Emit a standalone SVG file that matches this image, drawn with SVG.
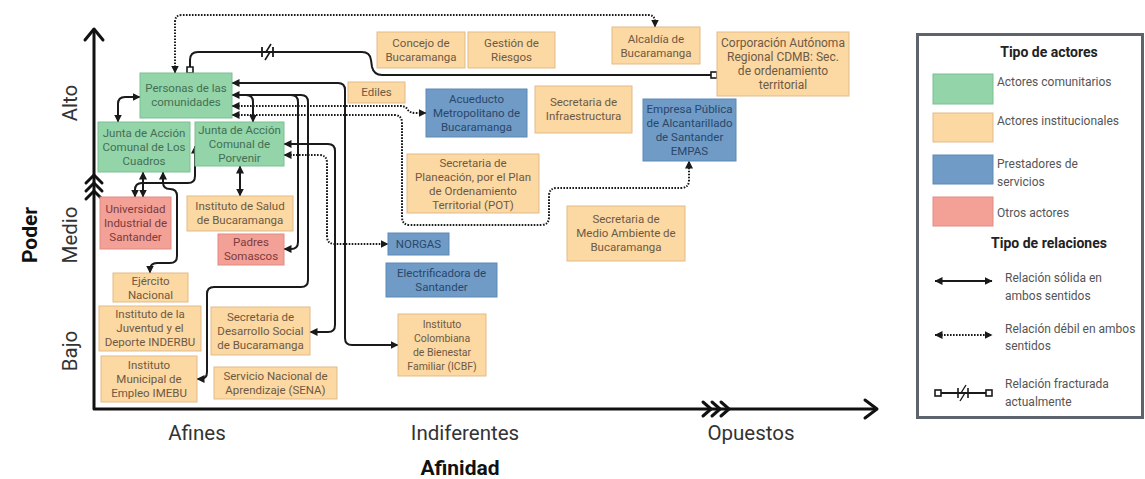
<svg xmlns="http://www.w3.org/2000/svg" width="1145" height="479" viewBox="0 0 1145 479">
<defs>
<style>
.g{fill:#93d4a9;stroke:#7cbf93;stroke-width:1}
.o{fill:#fcd8a2;stroke:#e2bb88;stroke-width:1}
.b{fill:#6f9bc6;stroke:#5d89b5;stroke-width:1}
.r{fill:#f3a097;stroke:#df8c83;stroke-width:1}
text{font-family:Roboto,"Liberation Sans",sans-serif}
.t{font-size:11.5px;text-anchor:middle}
.tg{fill:#456f53}.to{fill:#6e5a44}.tb{fill:#2a476a}.tr{fill:#7d3b3b}
.ln{fill:none;stroke:#1a1a1a;stroke-width:2}
.dt{fill:none;stroke:#1a1a1a;stroke-width:2;stroke-dasharray:1.6 1.4}
.ax{fill:none;stroke:#111;stroke-width:3;stroke-linecap:round;stroke-linejoin:round}
.al{font-size:20.5px;fill:#333}
.ab{font-size:21px;font-weight:bold;fill:#111}
.lg{font-size:12px;fill:#555}
.lh{font-size:14px;font-weight:bold;fill:#222;text-anchor:middle}
</style>
<marker id="a" viewBox="0 0 8 8" refX="7.5" refY="4" markerWidth="8" markerHeight="8" markerUnits="userSpaceOnUse" orient="auto-start-reverse">
<path d="M0,0 L8,4 L0,8 Z" fill="#1a1a1a"/>
</marker>
<marker id="sq" viewBox="0 0 8 8" refX="4" refY="4" markerWidth="8" markerHeight="8" markerUnits="userSpaceOnUse" orient="auto">
<rect x="1" y="1" width="6" height="6" fill="#fff" stroke="#1a1a1a" stroke-width="1.6"/>
</marker>
</defs>
<rect width="1145" height="479" fill="#fff"/>

<!-- axes -->
<g id="axes">
<path class="ax" d="M94,30 V409 H876"/>
<polyline class="ax" points="85,40 94,29 103,40"/>
<polyline class="ax" points="865,400 877,409 865,418"/>
<polyline class="ax" points="86,183 94,175 102,183"/>
<polyline class="ax" points="86,191 94,183 102,191"/>
<polyline class="ax" points="86,199 94,191 102,199"/>
<polyline class="ax" points="703,402 711,409 703,416"/>
<polyline class="ax" points="712,402 720,409 712,416"/>
<polyline class="ax" points="721,402 729,409 721,416"/>
<text class="al" transform="translate(77,103) rotate(-90)" text-anchor="middle">Alto</text>
<text class="al" transform="translate(77,235) rotate(-90)" text-anchor="middle">Medio</text>
<text class="al" transform="translate(77,351) rotate(-90)" text-anchor="middle">Bajo</text>
<text class="ab" transform="translate(37,235) rotate(-90)" text-anchor="middle">Poder</text>
<text class="al" x="197" y="440" text-anchor="middle">Afines</text>
<text class="al" x="465" y="440" text-anchor="middle">Indiferentes</text>
<text class="al" x="751" y="440" text-anchor="middle">Opuestos</text>
<text class="ab" x="460" y="475" text-anchor="middle">Afinidad</text>
</g>

<!-- connectors -->
<g id="connectors">
<path class="dt" d="M175,73 V22 Q175,15 182,15 H648 Q655,15 655,22 V27" marker-start="url(#a)" marker-end="url(#a)"/>
<path class="ln" d="M190,70 V60 Q190,52 198,52 H362 Q370,52 371,60 L372,67 Q374,75 382,75 H714" marker-start="url(#sq)" marker-end="url(#sq)"/>
<path d="M262,47 V57 M273,47 V57" stroke="#1a1a1a" stroke-width="1.8" fill="none"/>
<path d="M271,44 L266,52 L270,52 L265,60" stroke="#1a1a1a" stroke-width="1.6" fill="none"/>
<path class="ln" d="M140,97 H125 Q118,97 118,104 V122" marker-start="url(#a)" marker-end="url(#a)"/>
<path class="ln" d="M232,83 H338 Q345,83 345,90 V338 Q345,345 352,345 H398" marker-start="url(#a)" marker-end="url(#a)"/>
<path class="ln" d="M232,95 H291 Q298,95 298,102 V242 Q298,249 291,249 H284" marker-start="url(#a)" marker-end="url(#a)"/>
<path class="ln" d="M232,95 H301 Q308,95 308,102 V280 Q308,287 301,287 H214 Q207,287 207,294 V372 Q207,379 200,379 H197" marker-end="url(#a)"/>
<path class="ln" d="M232,95 H246 Q253,95 253,102 V122" marker-end="url(#a)"/>
<path class="dt" d="M232,106 H400 Q406,106 408,110 Q410,113 416,113 H426" marker-start="url(#a)" marker-end="url(#a)"/>
<path class="dt" d="M232,115 H394 Q402,115 402,123 V217 Q402,225 410,225 H541 Q549,225 549,217 V196 Q549,188 557,188 H681 Q689,188 689,180 V161" marker-start="url(#a)" marker-end="url(#a)"/>
<path class="ln" d="M284,144 H328 Q335,144 335,151 V325 Q335,332 328,332 H310" marker-start="url(#a)" marker-end="url(#a)"/>
<path class="dt" d="M284,155 H319 Q327,155 327,163 V236 Q327,244 335,244 H388" marker-start="url(#a)" marker-end="url(#a)"/>
<path class="ln" d="M240,166 V196" marker-start="url(#a)" marker-end="url(#a)"/>
<path class="ln" d="M143,172 V197" marker-start="url(#a)" marker-end="url(#a)"/>
<path class="ln" d="M195,146 V176 Q195,183 188,183 H142 Q135,183 135,190 V197" marker-start="url(#a)" marker-end="url(#a)"/>
<path class="ln" d="M163,172 V182 Q163,189 170,189 Q177,189 177,196 V256 Q177,263 170,263 H157 Q150,263 150,270 V273" marker-start="url(#a)" marker-end="url(#a)"/>
</g>

<!-- nodes -->
<g id="personas"><rect class="g" x="140" y="73" width="92" height="45"/><text class="t tg" x="186" y="92">Personas de las</text><text class="t tg" x="186" y="106">comunidades</text></g>
<g id="cuadros"><rect class="g" x="98" y="122" width="92" height="50"/><text class="t tg" x="144" y="137">Junta de Acción</text><text class="t tg" x="144" y="151">Comunal de Los</text><text class="t tg" x="144" y="165">Cuadros</text></g>
<g id="porvenir"><rect class="g" x="195" y="122" width="89" height="44"/><text class="t tg" x="239.5" y="134">Junta de Acción</text><text class="t tg" x="239.5" y="148">Comunal de</text><text class="t tg" x="239.5" y="162">Porvenir</text></g>
<g id="uis"><rect class="r" x="100" y="197" width="71" height="52"/><text class="t tr" x="135.5" y="213">Universidad</text><text class="t tr" x="135.5" y="227">Industrial de</text><text class="t tr" x="135.5" y="241">Santander</text></g>
<g id="salud"><rect class="o" x="187" y="196" width="106" height="35"/><text class="t to" x="240" y="210">Instituto de Salud</text><text class="t to" x="240" y="224">de Bucaramanga</text></g>
<g id="padres"><rect class="r" x="218" y="234" width="66" height="31"/><text class="t tr" x="251" y="246">Padres</text><text class="t tr" x="251" y="260">Somascos</text></g>
<g id="ejercito"><rect class="o" x="113" y="273" width="75" height="29"/><text class="t to" x="150.5" y="285">Ejército</text><text class="t to" x="150.5" y="299">Nacional</text></g>
<g id="inderbu"><rect class="o" x="99" y="306" width="102" height="45"/><text class="t to" x="150" y="318">Instituto de la</text><text class="t to" x="150" y="332">Juventud y el</text><text class="t to" x="150" y="346">Deporte INDERBU</text></g>
<g id="imebu"><rect class="o" x="101" y="356" width="96" height="46"/><text class="t to" x="149" y="369">Instituto</text><text class="t to" x="149" y="383">Municipal de</text><text class="t to" x="149" y="397">Empleo IMEBU</text></g>
<g id="desarrollo"><rect class="o" x="211" y="307" width="99" height="48"/><text class="t to" x="260.5" y="321">Secretaria de</text><text class="t to" x="260.5" y="335">Desarrollo Social</text><text class="t to" x="260.5" y="349">de Bucaramanga</text></g>
<g id="sena"><rect class="o" x="214" y="367" width="123" height="32"/><text class="t to" x="275.5" y="380">Servicio Nacional de</text><text class="t to" x="275.5" y="394">Aprendizaje (SENA)</text></g>
<g id="icbf"><rect class="o" x="398" y="314" width="88" height="62"/><text class="t to" x="442" y="328" style="font-size:10.5px">Instituto</text><text class="t to" x="442" y="342" style="font-size:10.5px">Colombiana</text><text class="t to" x="442" y="356" style="font-size:10.5px">de Bienestar</text><text class="t to" x="442" y="370" style="font-size:10.5px">Familiar (ICBF)</text></g>
<g id="norgas"><rect class="b" x="388" y="233" width="61" height="22"/><text class="t tb" x="418.5" y="248">NORGAS</text></g>
<g id="electrificadora"><rect class="b" x="386" y="263" width="111" height="34"/><text class="t tb" x="441.5" y="277">Electrificadora de</text><text class="t tb" x="441.5" y="291">Santander</text></g>
<g id="planeacion"><rect class="o" x="407" y="154" width="132" height="59"/><text class="t to" x="473" y="167">Secretaria de</text><text class="t to" x="473" y="181">Planeación, por el Plan</text><text class="t to" x="473" y="195">de Ordenamiento</text><text class="t to" x="473" y="209">Territorial (POT)</text></g>
<g id="medioambiente"><rect class="o" x="567" y="206" width="118" height="55"/><text class="t to" x="626" y="223">Secretaria de</text><text class="t to" x="626" y="237">Medio Ambiente de</text><text class="t to" x="626" y="251">Bucaramanga</text></g>
<g id="acueducto"><rect class="b" x="426" y="89" width="101" height="48"/><text class="t tb" x="476.5" y="103">Acueducto</text><text class="t tb" x="476.5" y="117">Metropolitano de</text><text class="t tb" x="476.5" y="131">Bucaramanga</text></g>
<g id="infraestructura"><rect class="o" x="535" y="86" width="97" height="47"/><text class="t to" x="583.5" y="106">Secretaria de</text><text class="t to" x="583.5" y="120">Infraestructura</text></g>
<g id="ediles"><rect class="o" x="348" y="82" width="57" height="21"/><text class="t to" x="376.5" y="96">Ediles</text></g>
<g id="concejo"><rect class="o" x="377" y="32" width="88" height="36"/><text class="t to" x="421" y="47">Concejo de</text><text class="t to" x="421" y="61">Bucaramanga</text></g>
<g id="riesgos"><rect class="o" x="468" y="32" width="87" height="36"/><text class="t to" x="511.5" y="47">Gestión de</text><text class="t to" x="511.5" y="61">Riesgos</text></g>
<g id="alcaldia"><rect class="o" x="612" y="27" width="88" height="37"/><text class="t to" x="656" y="43">Alcaldía de</text><text class="t to" x="656" y="57">Bucaramanga</text></g>
<g id="corporacion"><rect class="o" x="717" y="32" width="132" height="64"/><text class="t to" x="783" y="47" style="font-size:12px">Corporación Autónoma</text><text class="t to" x="783" y="61" style="font-size:12px">Regional CDMB: Sec.</text><text class="t to" x="783" y="75" style="font-size:12px">de ordenamiento</text><text class="t to" x="783" y="89" style="font-size:12px">territorial</text></g>
<g id="empas"><rect class="b" x="643" y="99" width="93" height="62"/><text class="t tb" x="689.5" y="113">Empresa Pública</text><text class="t tb" x="689.5" y="127">de Alcantarillado</text><text class="t tb" x="689.5" y="141">de Santander</text><text class="t tb" x="689.5" y="155">EMPAS</text></g>

<!-- legend -->
<g id="legend">
<rect x="917.5" y="34.5" width="225" height="383" fill="#fff" stroke="#5d646e" stroke-width="3"/>
<text class="lh" x="1049" y="57">Tipo de actores</text>
<rect class="g" x="933" y="74" width="60" height="30"/>
<rect class="o" x="933" y="113" width="60" height="29"/>
<rect class="b" x="933" y="155" width="60" height="29"/>
<rect class="r" x="933" y="197" width="60" height="29"/>
<text class="lg" x="997" y="86">Actores comunitarios</text>
<text class="lg" x="997" y="125">Actores institucionales</text>
<text class="lg" x="997" y="168">Prestadores de</text>
<text class="lg" x="997" y="186">servicios</text>
<text class="lg" x="997" y="217">Otros actores</text>
<text class="lh" x="1049" y="248">Tipo de relaciones</text>
<path class="ln" d="M935,281 H992" marker-start="url(#a)" marker-end="url(#a)"/>
<text class="lg" x="1005" y="282">Relación sólida en</text>
<text class="lg" x="1005" y="300">ambos sentidos</text>
<path class="dt" d="M935,335 H992" marker-start="url(#a)" marker-end="url(#a)"/>
<text class="lg" x="1005" y="333">Relación débil en ambos</text>
<text class="lg" x="1005" y="350">sentidos</text>
<path class="ln" d="M938,393 H989" marker-start="url(#sq)" marker-end="url(#sq)"/>
<path d="M958,388 V398 M968,388 V398" stroke="#1a1a1a" stroke-width="1.6" fill="none"/>
<path d="M966,385 L961,393 L965,393 L960,401" stroke="#1a1a1a" stroke-width="1.4" fill="none"/>
<text class="lg" x="1005" y="388">Relación fracturada</text>
<text class="lg" x="1005" y="406">actualmente</text>
</g>
</svg>
